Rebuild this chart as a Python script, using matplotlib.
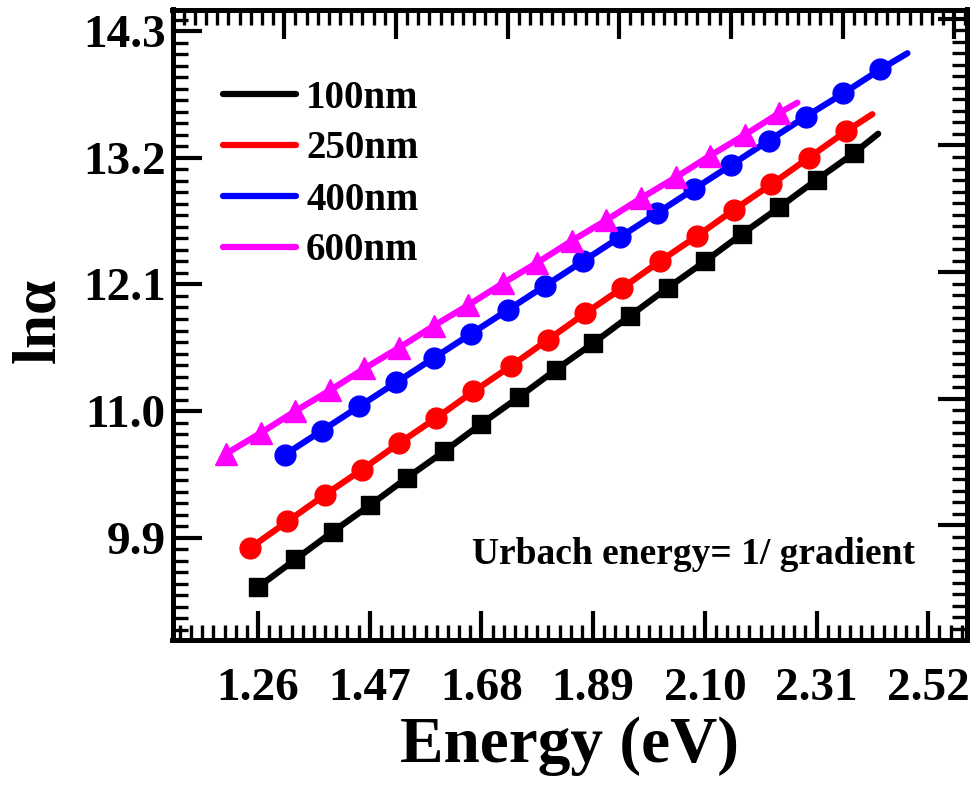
import matplotlib
matplotlib.use("Agg")
from matplotlib import pyplot as plt
from matplotlib.ticker import FixedLocator, MultipleLocator
import numpy as np

# Urbach plot data: photon energy (eV) vs ln(alpha) for each film thickness
e_100 = [1.26, 1.33, 1.40, 1.47, 1.54, 1.61, 1.68, 1.75, 1.82, 1.89, 1.96, 2.03, 2.10, 2.17, 2.24, 2.31, 2.38]
lna_100 = [9.47, 9.71, 9.95, 10.18, 10.42, 10.65, 10.89, 11.12, 11.36, 11.59, 11.83, 12.07, 12.30, 12.54, 12.77, 13.01, 13.24]

e_250 = [1.245, 1.315, 1.385, 1.455, 1.525, 1.595, 1.665, 1.735, 1.805, 1.875, 1.945, 2.015, 2.085, 2.155, 2.225, 2.295, 2.365]
lna_250 = [9.81, 10.04, 10.27, 10.49, 10.72, 10.94, 11.17, 11.39, 11.62, 11.85, 12.07, 12.30, 12.52, 12.75, 12.97, 13.20, 13.43]

e_400 = [1.31, 1.38, 1.45, 1.52, 1.59, 1.66, 1.73, 1.80, 1.87, 1.94, 2.01, 2.08, 2.15, 2.22, 2.29, 2.36, 2.43]
lna_400 = [10.62, 10.83, 11.04, 11.25, 11.46, 11.67, 11.88, 12.09, 12.30, 12.51, 12.72, 12.93, 13.14, 13.35, 13.56, 13.76, 13.97]

e_600 = [1.200, 1.265, 1.330, 1.395, 1.460, 1.525, 1.590, 1.655, 1.720, 1.785, 1.850, 1.915, 1.980, 2.045, 2.110, 2.175, 2.240]
lna_600 = [10.63, 10.81, 11.00, 11.18, 11.37, 11.55, 11.74, 11.92, 12.11, 12.29, 12.48, 12.66, 12.85, 13.03, 13.22, 13.40, 13.59]

# where each straight-line fit stops (it runs a bit past the last point)
fit_end_e = [2.426, 2.415, 2.481, 2.274]
fit_end_lna = [13.41, 13.58, 14.11, 13.68]

labels = ['100nm', '250nm', '400nm', '600nm']
colors = ['#000000', '#ff0000', '#0000ff', '#ff00ff']
markers = ['s', 'o', 'o', '^']
msizes = [13.5, 15, 15, 16]

x_ticks = [1.26, 1.47, 1.68, 1.89, 2.10, 2.31, 2.52]
y_ticks = [9.9, 11.0, 12.1, 13.2, 14.3]

plt.rcParams['font.family'] = ['Liberation Serif', 'DejaVu Serif']
plt.rcParams['font.weight'] = 'bold'

fig = plt.figure(figsize=(9.74, 7.88), dpi=100)
ax = fig.add_axes([172.5 / 974, 148 / 788, 794.5 / 974, 630.5 / 788])

series = [(e_100, lna_100), (e_250, lna_250), (e_400, lna_400), (e_600, lna_600)]
for i, (e, lna) in enumerate(series):
    ax.plot(e + [fit_end_e[i]], lna + [fit_end_lna[i]], color=colors[i], lw=4.5,
            solid_capstyle='round', label=labels[i], zorder=2)
    ax.plot(e, lna, ls='none', marker=markers[i], ms=msizes[i], color=colors[i],
            mec=colors[i], zorder=3)

ax.set_xlim(1.099, 2.593)
ax.set_ylim(9.01, 14.49)

ax.xaxis.set_major_locator(FixedLocator(x_ticks))
ax.xaxis.set_minor_locator(MultipleLocator(0.021))
ax.yaxis.set_major_locator(FixedLocator(y_ticks))
ax.yaxis.set_minor_locator(MultipleLocator(0.1))
ax.set_xticklabels([f'{v:.2f}' for v in x_ticks])
ax.set_yticklabels([f'{v:.1f}' for v in y_ticks])

ax.tick_params(which='major', direction='in', length=21, width=3, labelsize=34, pad=20)
ax.tick_params(which='minor', direction='in', length=11, width=2.4)
ax.tick_params(axis='y', which='major', pad=5)
for s in ax.spines.values():
    s.set_linewidth(3.6)

# the top and right axes in the original are shifted against bottom/left
top = ax.twiny()
top.set_xlim(ax.get_xlim())
top.xaxis.set_major_locator(MultipleLocator(0.21, offset=0.049))
top.xaxis.set_minor_locator(MultipleLocator(0.021, offset=0.007))
top.tick_params(axis='x', which='major', direction='in', length=21, width=3, labeltop=False)
top.tick_params(axis='x', which='minor', direction='in', length=11, width=2.4)

right = ax.twinx()
right.set_ylim(ax.get_ylim())
right.yaxis.set_major_locator(MultipleLocator(1.1, offset=0.108))
right.yaxis.set_minor_locator(MultipleLocator(0.1, offset=0.008))
right.tick_params(axis='y', which='major', direction='in', length=21, width=3, labelright=False)
right.tick_params(axis='y', which='minor', direction='in', length=11, width=2.4)
for a in (top, right):
    for s in a.spines.values():
        s.set_linewidth(3.6)

ax.set_xlabel('Energy (eV)', fontsize=47, fontweight='bold')
ax.xaxis.set_label_coords(0.5, -0.12)
ax.set_ylabel('ln\u03b1', fontsize=44, fontweight='bold')
ax.yaxis.set_label_coords(-0.133, 0.507)

ax.text(0.935, 0.135, 'Urbach energy= 1/ gradient', transform=ax.transAxes,
        fontsize=27, fontweight='bold', ha='right', va='center')

ax.legend(loc='upper left', bbox_to_anchor=(50 / 794.5, 1 - 70 / 630.5), frameon=False,
          fontsize=28, handlelength=1.9, handletextpad=0.25, labelspacing=0.36,
          borderpad=0, borderaxespad=0)

fig.savefig('out.png', dpi=100)
